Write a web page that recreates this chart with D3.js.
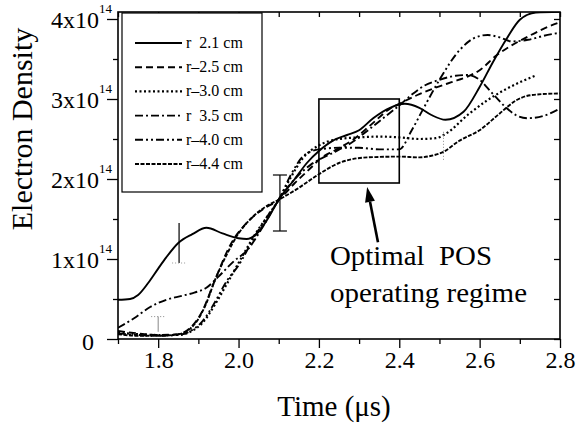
<!DOCTYPE html>
<html>
<head>
<meta charset="utf-8">
<script src="https://cdn.jsdelivr.net/npm/d3@7"></script>
<style>
body { margin: 0; background: #fff; }
</style>
</head>
<body>
<svg id="chart"></svg>
<script>
// electron density in units of 1e14, [time (us), density] for each radius
const r21 = [[1.70,0.49],[1.73,0.50],[1.75,0.55],[1.775,0.70],[1.80,0.88],[1.82,1.02],[1.85,1.20],[1.885,1.31],[1.92,1.39],[1.96,1.32],[2.00,1.26],[2.02,1.25],[2.05,1.34],[2.07,1.48],[2.10,1.74],[2.14,2.00],[2.17,2.20],[2.20,2.35],[2.235,2.48],[2.27,2.55],[2.30,2.61],[2.335,2.76],[2.377,2.89],[2.414,2.94],[2.45,2.89],[2.48,2.80],[2.515,2.74],[2.56,2.84],[2.60,3.15],[2.633,3.46],[2.668,3.76],[2.70,3.99],[2.74,4.08],[2.80,4.09]];
const r25 = [[1.70,0.10],[1.75,0.07],[1.80,0.05],[1.85,0.06],[1.88,0.14],[1.91,0.35],[1.94,0.72],[1.98,1.18],[2.02,1.45],[2.06,1.62],[2.10,1.74],[2.14,1.95],[2.18,2.14],[2.20,2.24],[2.24,2.36],[2.285,2.49],[2.33,2.68],[2.377,2.88],[2.40,2.94],[2.45,3.06],[2.49,3.14],[2.53,3.21],[2.57,3.28],[2.60,3.36],[2.643,3.55],[2.69,3.70],[2.72,3.78],[2.76,3.88],[2.80,3.96]];
const r30 = [[1.70,0.08],[1.75,0.06],[1.80,0.05],[1.85,0.05],[1.88,0.09],[1.91,0.20],[1.94,0.42],[1.97,0.68],[2.00,0.95],[2.04,1.30],[2.07,1.52],[2.10,1.74],[2.13,2.02],[2.16,2.26],[2.20,2.42],[2.25,2.50],[2.30,2.52],[2.35,2.53],[2.40,2.52],[2.45,2.50],[2.49,2.51],[2.52,2.58],[2.57,2.80],[2.618,2.98],[2.668,3.13],[2.738,3.29]];
const r35 = [[1.70,0.14],[1.74,0.26],[1.78,0.40],[1.82,0.49],[1.86,0.54],[1.89,0.58],[1.92,0.64],[1.95,0.78],[1.99,0.98],[2.02,1.10],[2.06,1.40],[2.10,1.74],[2.14,2.00],[2.18,2.18],[2.20,2.24],[2.24,2.34],[2.28,2.45],[2.32,2.60],[2.36,2.76],[2.40,2.92],[2.43,3.05],[2.46,3.16],[2.50,3.24],[2.54,3.29],[2.57,3.30],[2.60,3.24],[2.63,3.08],[2.66,2.92],[2.69,2.80],[2.72,2.76],[2.76,2.79],[2.80,2.88]];
const r40 = [[1.70,0.07],[1.75,0.05],[1.80,0.04],[1.85,0.05],[1.88,0.10],[1.91,0.22],[1.94,0.45],[1.97,0.72],[2.00,0.92],[2.04,1.28],[2.07,1.52],[2.10,1.74],[2.13,2.05],[2.16,2.28],[2.20,2.37],[2.25,2.39],[2.30,2.39],[2.35,2.37],[2.40,2.37],[2.43,2.60],[2.46,2.88],[2.50,3.24],[2.55,3.61],[2.59,3.77],[2.62,3.80],[2.65,3.77],[2.68,3.72],[2.72,3.74],[2.76,3.79],[2.80,3.83]];
const r44 = [[1.70,0.06],[1.75,0.04],[1.80,0.04],[1.85,0.06],[1.88,0.13],[1.90,0.25],[1.92,0.45],[1.94,0.72],[1.97,1.05],[2.00,1.32],[2.03,1.50],[2.066,1.65],[2.10,1.74],[2.147,1.88],[2.20,2.06],[2.25,2.20],[2.32,2.27],[2.40,2.28],[2.45,2.27],[2.48,2.29],[2.51,2.34],[2.55,2.48],[2.60,2.61],[2.65,2.82],[2.69,2.98],[2.73,3.05],[2.80,3.07]];

const seriesLabels = ['r  2.1 cm', 'r\u20132.5 cm', 'r\u20133.0 cm', 'r  3.5 cm', 'r\u20134.0 cm', 'r\u20134.4 cm'];

// error bars: [time, low, high]
const errTime = [1.852, 2.103, 1.80, 2.51];
const errLow  = [0.95, 1.35, 0.09, 2.24];
const errHigh = [1.45, 2.05, 0.28, 2.61];

const xTicks = [1.8, 2.0, 2.2, 2.4, 2.6, 2.8];
const xMinor = [1.7, 1.9, 2.1, 2.3, 2.5, 2.7];
const yTicks = [0, 1, 2, 3, 4];
const yMinor = [0.5, 1.5, 2.5, 3.5];
const yTickLabels = ['0', '1x10', '2x10', '3x10', '4x10'];

const SERIF = "'Liberation Serif', 'Times New Roman', serif";

class DensityChart {
    constructor (config) {
        this.config = {
            parent: config.parent,
            width: config.width || 579,
            height: config.height || 428,
            margin: config.margin || {top:12, right:19, bottom:89, left:118},
            xlabel: config.xlabel || '',
            ylabel: config.ylabel || ''
        };
        this.series = [r21, r25, r30, r35, r40, r44];
        this.dashes = ['', '7,4', '2,2.5', '8,3,2,3', '8,3,2,3,2,3', '4,1.5'];
        this.init();
    }

    init() {
        let self = this;

        self.svg = d3.select(self.config.parent)
            .attr('width', self.config.width)
            .attr('height', self.config.height);

        self.inner_width = self.config.width - self.config.margin.left - self.config.margin.right;
        self.inner_height = self.config.height - self.config.margin.top - self.config.margin.bottom;

        self.chart = self.svg.append('g')
            .attr('transform', `translate(${self.config.margin.left}, ${self.config.margin.top})`);

        self.xscale = d3.scaleLinear()
            .domain([1.7, 2.8])
            .range([0, self.inner_width]);

        self.yscale = d3.scaleLinear()
            .domain([0, 4.0875])
            .range([self.inner_height, 0]);

        self.line = d3.line()
            .x(d => self.xscale(d[0]))
            .y(d => self.yscale(d[1]))
            .curve(d3.curveMonotoneX);

        self.svg.append('defs').append('clipPath')
            .attr('id', 'plotclip')
            .append('rect')
            .attr('width', self.inner_width)
            .attr('height', self.inner_height);

        self.svg.append('text')
            .style('font-family', SERIF)
            .style('font-size', '29px')
            .attr('x', 334)
            .attr('y', 416)
            .attr('text-anchor', 'middle')
            .text(self.config.xlabel);

        self.svg.append('text')
            .style('font-family', SERIF)
            .style('font-size', '30px')
            .attr('transform', `translate(32, 129) rotate(-90)`)
            .attr('text-anchor', 'middle')
            .text(self.config.ylabel);
    }

    render() {
        let self = this;

        // axes: bottom/left ticks outward, top/right mirrored inward
        const bottom = self.chart.append('g')
            .attr('transform', `translate(0, ${self.inner_height})`);
        bottom.append('g').call(d3.axisBottom(self.xscale).tickValues(xMinor).tickSize(5).tickFormat(''));
        bottom.append('g').call(d3.axisBottom(self.xscale).tickValues(xTicks).tickSize(9).tickPadding(3)
            .tickFormat(d3.format('.1f')));
        bottom.selectAll('text')
            .attr('fill', 'black')
            .style('font-family', SERIF)
            .style('font-size', '24px');

        const top = self.chart.append('g');
        top.call(d3.axisBottom(self.xscale).tickValues(xTicks.concat(xMinor)).tickSize(5).tickFormat(''));

        const left = self.chart.append('g');
        left.append('g').call(d3.axisLeft(self.yscale).tickValues(yMinor).tickSize(5).tickFormat(''));
        const leftMajor = left.append('g').call(d3.axisLeft(self.yscale).tickValues(yTicks).tickSize(11).tickFormat(''));
        leftMajor.selectAll('.tick').append('text')
            .attr('fill', 'black')
            .attr('text-anchor', 'end')
            .attr('x', d => d === 0 ? -24 : -6)
            .attr('y', d => d === 0 ? 10 : 8)
            .style('font-family', SERIF)
            .style('font-size', '24px')
            .each(function(d, i) {
                const t = d3.select(this);
                t.append('tspan').text(yTickLabels[i]);
                if (d !== 0) {
                    t.append('tspan').attr('dy', -15).style('font-size', '13px').text('14');
                }
            });

        const right = self.chart.append('g')
            .attr('transform', `translate(${self.inner_width}, 0)`);
        right.call(d3.axisRight(self.yscale).tickValues(yTicks.concat(yMinor)).tickSize(-6).tickFormat(''));

        self.chart.selectAll('.domain').remove();
        self.chart.selectAll('.tick line').attr('stroke', 'black').attr('stroke-width', 1.3);

        // curves
        self.chart.append('g')
            .attr('clip-path', 'url(#plotclip)')
            .selectAll('path')
            .data(self.series)
            .join('path')
            .attr('d', d => self.line(d))
            .attr('fill', 'none')
            .attr('stroke', 'black')
            .attr('stroke-width', (d, i) => i === 2 ? 2.2 : 1.9)
            .attr('stroke-dasharray', (d, i) => self.dashes[i]);

        // error bars
        const errs = errTime.map((t, i) => ({t: t, lo: errLow[i], hi: errHigh[i], i: i}));
        const eb = self.chart.append('g').selectAll('g').data(errs).join('g')
            .attr('stroke', d => d.i >= 2 ? '#888' : 'black')
            .attr('stroke-width', d => d.i >= 2 ? 1 : 1.2);
        eb.append('line')
            .attr('x1', d => self.xscale(d.t)).attr('x2', d => self.xscale(d.t))
            .attr('y1', d => self.yscale(d.lo)).attr('y2', d => self.yscale(d.hi))
            .attr('stroke-dasharray', d => d.i === 3 ? '1,2' : null);
        // caps: 2.1 has both, 1.85 only bottom (faint), 1.8 only top (faint)
        eb.filter(d => d.i === 1).selectAll('line.cap').data(d => [[d.t, d.lo], [d.t, d.hi]]).join('line')
            .attr('x1', d => self.xscale(d[0]) - 7).attr('x2', d => self.xscale(d[0]) + 7)
            .attr('y1', d => self.yscale(d[1])).attr('y2', d => self.yscale(d[1]));
        eb.filter(d => d.i === 0).append('line')
            .attr('stroke', '#999').attr('stroke-dasharray', '1,2')
            .attr('x1', d => self.xscale(d.t) - 7).attr('x2', d => self.xscale(d.t) + 7)
            .attr('y1', d => self.yscale(d.lo)).attr('y2', d => self.yscale(d.lo));
        eb.filter(d => d.i === 2).append('line')
            .attr('stroke-dasharray', '1,2')
            .attr('x1', d => self.xscale(d.t) - 7).attr('x2', d => self.xscale(d.t) + 7)
            .attr('y1', d => self.yscale(d.hi)).attr('y2', d => self.yscale(d.hi));

        // optimal regime box and arrow
        self.chart.append('rect')
            .attr('x', self.xscale(2.2))
            .attr('y', self.yscale(3.0))
            .attr('width', self.xscale(2.4) - self.xscale(2.2))
            .attr('height', self.yscale(1.95) - self.yscale(3.0))
            .attr('fill', 'none')
            .attr('stroke', 'black')
            .attr('stroke-width', 1.6);

        const ax0 = self.xscale(2.347), ay0 = self.yscale(1.21);
        const ax1 = self.xscale(2.320), ay1 = self.yscale(1.90);
        const ang = Math.atan2(ay1 - ay0, ax1 - ax0);
        const hl = 15, hw = 5;
        const bx = ax1 - hl * Math.cos(ang), by = ay1 - hl * Math.sin(ang);
        self.chart.append('line')
            .attr('x1', ax0).attr('y1', ay0).attr('x2', bx).attr('y2', by)
            .attr('stroke', 'black').attr('stroke-width', 2.6);
        self.chart.append('path')
            .attr('d', `M${ax1},${ay1} L${bx + hw * Math.sin(ang)},${by - hw * Math.cos(ang)} L${bx - hw * Math.sin(ang)},${by + hw * Math.cos(ang)} Z`)
            .attr('fill', 'black');

        self.svg.append('text')
            .style('font-family', SERIF)
            .style('font-size', '27px')
            .attr('x', 330).attr('y', 265)
            .attr('xml:space', 'preserve')
            .attr('textLength', 162)
            .attr('lengthAdjust', 'spacingAndGlyphs')
            .text('Optimal  POS');
        self.svg.append('text')
            .style('font-family', SERIF)
            .style('font-size', '27px')
            .attr('x', 330).attr('y', 302)
            .attr('textLength', 197)
            .attr('lengthAdjust', 'spacingAndGlyphs')
            .text('operating regime');

        // frame
        self.chart.append('rect')
            .attr('width', self.inner_width)
            .attr('height', self.inner_height)
            .attr('fill', 'none')
            .attr('stroke', 'black')
            .attr('stroke-width', 1.6);

        // legend
        const legend = self.svg.append('g');
        legend.append('rect')
            .attr('x', 122).attr('y', 13)
            .attr('width', 140).attr('height', 179)
            .attr('fill', 'white')
            .attr('stroke', 'black')
            .attr('stroke-width', 1.2);
        const rows = legend.selectAll('g.row').data(seriesLabels).join('g')
            .attr('transform', (d, i) => `translate(0, ${43 + i * 24.2})`);
        rows.append('line')
            .attr('x1', 135).attr('x2', 182)
            .attr('stroke', 'black')
            .attr('stroke-width', (d, i) => i === 2 ? 2.2 : 1.9)
            .attr('stroke-dasharray', (d, i) => self.dashes[i]);
        rows.append('text')
            .attr('x', 186).attr('y', 5)
            .attr('xml:space', 'preserve')
            .style('font-family', SERIF)
            .style('font-size', '16px')
            .text(d => d);
    }
}

const chart = new DensityChart({
    parent: '#chart',
    xlabel: 'Time (\u03bcs)',
    ylabel: 'Electron Density'
});
chart.render();
</script>
</body>
</html>
